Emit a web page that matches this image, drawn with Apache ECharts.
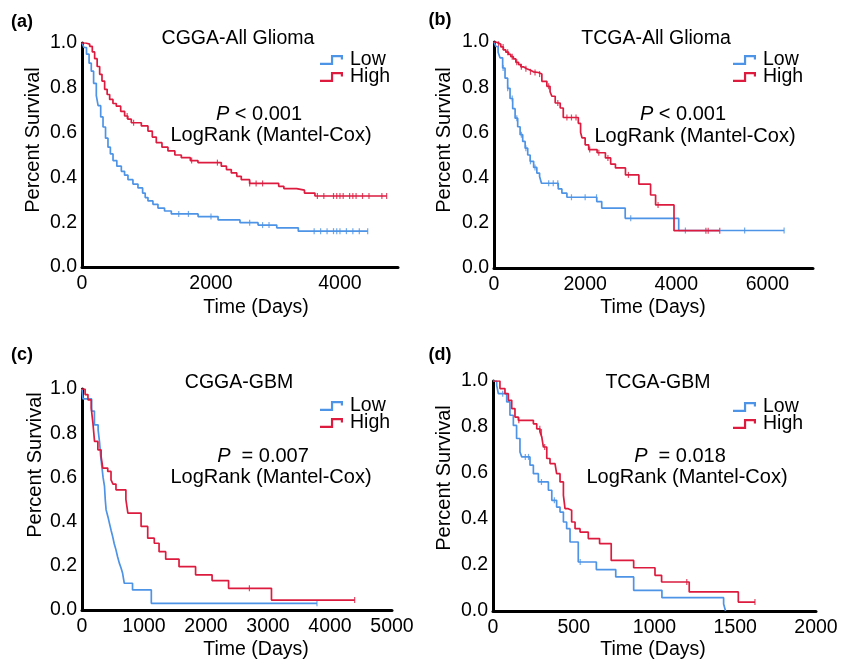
<!DOCTYPE html>
<html>
<head>
<meta charset="utf-8">
<script src="https://cdn.jsdelivr.net/npm/echarts@6/dist/echarts.min.js"></script>
<style>
  html, body { margin: 0; padding: 0; background: #fff; }
  #main { width: 846px; height: 663px; }
</style>
</head>
<body>
<div id="main"></div>
<script>
// 曲线数据 [天数, 生存率] -----------------------------
// (a) CGGA-All Glioma
let aLow = [[0,1],[30,0.98],[70,0.95],[110,0.91],[144,0.874],[180,0.82],[222,0.765],[250,0.72],[290,0.67],[326,0.625],[365,0.575],[403,0.535],[440,0.505],[481,0.475],[540,0.45],[610,0.427],[660,0.41],[713,0.39],[790,0.37],[868,0.353],[940,0.33],[980,0.31],[1023,0.295],[1100,0.28],[1178,0.263],[1280,0.25],[1385,0.237],[1800,0.225],[2110,0.21],[2450,0.198],[2730,0.187],[3020,0.175],[3354,0.16],[4430,0.16]];
let aHigh = [[0,1],[60,0.995],[119,0.985],[160,0.96],[196,0.93],[235,0.895],[274,0.86],[310,0.83],[351,0.793],[390,0.77],[429,0.748],[480,0.73],[532,0.718],[600,0.695],[661,0.674],[710,0.66],[765,0.644],[920,0.63],[1023,0.607],[1090,0.58],[1152,0.555],[1240,0.535],[1333,0.518],[1440,0.5],[1540,0.488],[1680,0.475],[1798,0.466],[2160,0.45],[2240,0.435],[2315,0.42],[2400,0.405],[2470,0.39],[2599,0.373],[3050,0.36],[3130,0.35],[3328,0.343],[3450,0.33],[3612,0.317],[4724,0.317]];
let aLowCens = [1500,1650,2000,2600,2800,2900,3600,3700,3800,3900,3950,4000,4100,4200,4300,4430];
let aHighCens = [700,800,1700,2100,2600,2700,2800,3650,3750,3900,3950,4000,4050,4150,4200,4250,4350,4450,4650,4724];

// (b) TCGA-All Glioma
let bLow = [[0,1],[40,0.98],[90,0.955],[132,0.93],[190,0.885],[242,0.84],[300,0.795],[352,0.75],[410,0.705],[463,0.663],[520,0.625],[573,0.59],[630,0.56],[683,0.53],[740,0.5],[793,0.472],[870,0.445],[940,0.42],[1000,0.405],[1042,0.375],[1410,0.35],[1490,0.331],[1600,0.313],[2255,0.294],[2364,0.265],[2879,0.22],[4053,0.166],[6366,0.166]];
let bHigh = [[0,1],[50,0.995],[100,0.99],[150,0.978],[205,0.965],[260,0.955],[320,0.945],[370,0.935],[425,0.925],[480,0.91],[540,0.9],[590,0.89],[645,0.882],[720,0.875],[800,0.868],[865,0.865],[975,0.858],[1050,0.826],[1160,0.804],[1230,0.78],[1270,0.76],[1343,0.73],[1453,0.708],[1520,0.666],[1850,0.64],[1900,0.6],[1931,0.576],[2000,0.545],[2078,0.524],[2262,0.51],[2445,0.487],[2560,0.46],[2665,0.443],[2885,0.412],[3179,0.371],[3436,0.323],[3546,0.279],[3950,0.165],[4954,0.165]];
let bLowCens = [200,300,400,500,600,700,800,900,1200,1300,1400,1700,2000,2250,3000,4200,5500,6366];
let bHighCens = [100,200,300,400,500,600,700,800,900,1000,1200,1400,1600,1700,1800,2100,2300,2500,2950,3600,4650,4700,4954];

// (c) CGGA-GBM
let cLow = [[0,1],[15,0.955],[155,0.9],[200,0.838],[260,0.815],[283,0.76],[300,0.7],[320,0.65],[340,0.6],[363,0.559],[375,0.5],[389,0.453],[420,0.42],[442,0.393],[470,0.36],[495,0.332],[520,0.3],[548,0.272],[575,0.24],[602,0.212],[630,0.19],[655,0.166],[682,0.121],[815,0.091],[1118,0.03],[3790,0.03]];
let cHigh = [[0,1],[50,0.975],[96,0.951],[149,0.914],[176,0.846],[202,0.763],[256,0.725],[308,0.695],[335,0.642],[415,0.627],[468,0.589],[500,0.57],[548,0.544],[708,0.5],[740,0.438],[953,0.378],[1060,0.325],[1166,0.302],[1243,0.264],[1350,0.23],[1565,0.196],[1832,0.159],[2098,0.133],[2364,0.098],[3056,0.045],[4398,0.045]];
let cLowCens = [3790];
let cHighCens = [2700,4398];

// (d) TCGA-GBM
let dLow = [[0,1],[23,0.981],[33,0.945],[85,0.909],[105,0.851],[126,0.807],[146,0.75],[167,0.691],[178,0.67],[229,0.634],[250,0.597],[281,0.561],[343,0.525],[364,0.481],[394,0.452],[415,0.43],[436,0.387],[456,0.358],[477,0.3],[528,0.213],[640,0.18],[760,0.148],[871,0.09],[1046,0.058],[1428,0.03],[1440,0]];
let dHigh = [[0,1],[43,0.967],[74,0.945],[95,0.916],[116,0.88],[136,0.843],[157,0.829],[250,0.814],[271,0.792],[291,0.778],[302,0.757],[312,0.713],[333,0.663],[353,0.641],[384,0.634],[394,0.597],[415,0.561],[436,0.503],[446,0.445],[466,0.438],[487,0.387],[508,0.358],[539,0.343],[590,0.315],[660,0.293],[732,0.22],[871,0.188],[1003,0.155],[1044,0.126],[1215,0.083],[1519,0.039],[1622,0.039]];
let dLowCens = [60,200,220,300,380,540];
let dHighCens = [160,290,300,320,1200,1622];

// 坐标轴刻度
let xMaxList = [4900, 7000, 5000, 2000];
let xIntervalList = [2000, 2000, 1000, 500];
let titleList = ['CGGA-All Glioma', 'TCGA-All Glioma', 'CGGA-GBM', 'TCGA-GBM'];
let pTextList = ['{i|P} < 0.001', '{i|P} < 0.001', '{i|P}  = 0.007', '{i|P}  = 0.018'];
let panelLabels = ['(a)', '(b)', '(c)', '(d)'];

// 布局 ---------------------------------------
let FONT = 'Liberation Sans, Arial, sans-serif';
let BLUE = '#4d93e6';
let RED = '#dc1b3e';
let grids = [
  {left: 82, top: 43, width: 316, height: 224},
  {left: 494, top: 42, width: 319, height: 226},
  {left: 82, top: 389, width: 310, height: 221},
  {left: 493, top: 381, width: 323, height: 230}
];
let legendPos = [[315, 45], [728, 45], [315, 391], [728, 392]];
let curves = [[aLow, aHigh, aLowCens, aHighCens], [bLow, bHigh, bLowCens, bHighCens],
              [cLow, cHigh, cLowCens, cHighCens], [dLow, dHigh, dLowCens, dHighCens]];

// 某时刻的生存率
let survAt = function(curve, t){
  let s = 1;
  for (let i = 0; i < curve.length; i++) {
    if (curve[i][0] <= t) s = curve[i][1];
    else break;
  }
  return s;
}

let xAxes = [], yAxes = [], series = [], legends = [], graphics = [];
let stepIcon = 'path://M0,8L10,8L10,1L21,1L21,5L19,5L19,3L12,3L12,10L0,10Z';

grids.forEach((g, i) => {
  xAxes.push({
    gridIndex: i, type: 'value', min: 0, max: xMaxList[i], interval: xIntervalList[i],
    axisLine: {lineStyle: {color: '#000', width: 3}},
    axisTick: {show: false}, splitLine: {show: false},
    axisLabel: {color: '#000', fontSize: 19.5, fontFamily: FONT, margin: 7,
                showMaxLabel: i >= 2, formatter: v => String(v)}
  });
  yAxes.push({
    gridIndex: i, type: 'value', min: 0, max: 1, interval: 0.2,
    axisLine: {show: true, lineStyle: {color: '#000', width: 3}},
    axisTick: {show: false}, splitLine: {show: false},
    axisLabel: {color: '#000', fontSize: 19.5, fontFamily: FONT, margin: 5,
                formatter: v => v.toFixed(1)}
  });
  let [low, high, lowCens, highCens] = curves[i];
  [[low, lowCens, 'Low', BLUE], [high, highCens, 'High', RED]].forEach(([c, cens, name, color]) => {
    series.push({
      name: name, type: 'line', step: 'end', xAxisIndex: i, yAxisIndex: i,
      data: c, showSymbol: false, animation: false,
      lineStyle: {color: color, width: 1.7}, itemStyle: {color: color}
    });
    series.push({
      name: name + ' censored', type: 'scatter', xAxisIndex: i, yAxisIndex: i,
      data: cens.map(t => [t, survAt(c, t)]),
      symbol: 'rect', symbolSize: [1.2, 6], animation: false,
      itemStyle: {color: color, opacity: 0.8}
    });
  });
  legends.push({
    orient: 'vertical', left: legendPos[i][0], top: legendPos[i][1],
    itemWidth: 23, itemHeight: 11, itemGap: -3, icon: stepIcon,
    data: ['Low', 'High'],
    textStyle: {color: '#000', fontSize: 19.5, fontFamily: FONT, padding: [0, 0, 0, 2]}
  });
});

// 文字
let textPos = [
  {title: [238, 39], p: [259, 114], lr: [271, 135], lab: [22, 22], yName: [33, 140], xName: [256, 308]},
  {title: [656, 39], p: [683, 114], lr: [695, 136], lab: [440, 20], yName: [444, 140], xName: [653, 308]},
  {title: [239, 383], p: [263, 456], lr: [271, 477], lab: [22, 355], yName: [35, 465], xName: [256, 650]},
  {title: [658, 383], p: [680, 456], lr: [687, 477], lab: [440, 355], yName: [444, 478], xName: [653, 650]}
];
textPos.forEach((t, i) => {
  let base = {textAlign: 'center', textVerticalAlign: 'middle', fill: '#000', fontFamily: FONT};
  graphics.push({type: 'text', x: t.title[0], y: t.title[1],
    style: Object.assign({}, base, {text: titleList[i], fontSize: 19.5})});
  graphics.push({type: 'text', x: t.p[0], y: t.p[1],
    style: Object.assign({}, base, {text: pTextList[i], fontSize: 20,
      rich: {i: {fontStyle: 'italic', fontSize: 20, fontFamily: FONT}}})});
  graphics.push({type: 'text', x: t.lr[0], y: t.lr[1],
    style: Object.assign({}, base, {text: 'LogRank (Mantel-Cox)', fontSize: 20})});
  graphics.push({type: 'text', x: t.lab[0], y: t.lab[1],
    style: Object.assign({}, base, {text: panelLabels[i], fontSize: 18, fontWeight: 'bold'})});
  graphics.push({type: 'text', x: t.yName[0], y: t.yName[1], rotation: Math.PI / 2,
    style: Object.assign({}, base, {text: 'Percent Survival', fontSize: 20})});
  graphics.push({type: 'text', x: t.xName[0], y: t.xName[1],
    style: Object.assign({}, base, {text: 'Time (Days)', fontSize: 19.5})});
});

let chart = echarts.init(document.getElementById('main'));
chart.setOption({
  animation: false,
  grid: grids,
  xAxis: xAxes,
  yAxis: yAxes,
  legend: legends,
  series: series,
  graphic: graphics
});
</script>
</body>
</html>
